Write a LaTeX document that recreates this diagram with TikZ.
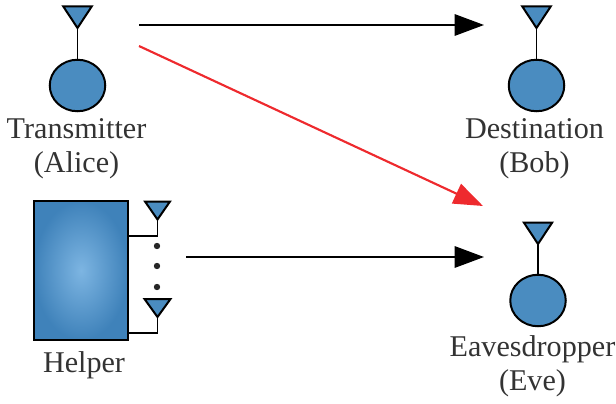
\documentclass[tikz,border=0pt]{standalone}
\usepackage{fontspec}
\setmainfont{Liberation Serif}
\usetikzlibrary{arrows.meta,shapes.geometric}
\definecolor{antblue}{HTML}{4A8CC0}
\definecolor{helpercore}{HTML}{7DB5E2}
\definecolor{helperedge}{HTML}{3F82BA}
\definecolor{txt}{HTML}{333333}
\definecolor{redarrow}{HTML}{EE2A2E}
\tikzset{
  terminal/.style={ellipse,draw=black,line width=1.5pt,fill=antblue,minimum width=55.5pt*0.75,minimum height=51.5pt*0.75,inner sep=0pt},
  antenna/.style={draw=black,line width=1.5pt,fill=antblue,line join=miter},
  stem/.style={draw=black,line width=.9pt},
  label/.style={text=txt,font=\fontsize{22.6pt}{25.2pt}\selectfont,align=center,inner sep=0pt},
  link/.style={line width=1.6pt,-{Triangle[length=22pt,width=16pt]},shorten >=0pt},
}
% name, x of tip, y of tip, half width, height
\newcommand{\antennaat}[5]{%
  \coordinate (#1) at (#2,#3);
  \draw[antenna] (#1) -- ++(-#4,-#5) -- ++(2*#4,0) -- cycle;
}
\begin{document}
\begin{tikzpicture}[x=.75pt,y=-.75pt]
\useasboundingbox (0,0) rectangle (616,403);
% Alice
\node[terminal] (alice) at (77.5,85.5) {};
\antennaat{aliceant}{77.5}{28}{14.2}{21.5}
\draw[stem] (aliceant) -- (alice.north);
\node[label] (alicetext) at (76.5,149) {Transmitter\\(Alice)};
% Bob
\node[terminal] (bob) at (536.5,85.5) {};
\antennaat{bobant}{536.5}{28}{14.2}{21.5}
\draw[stem] (bobant) -- (bob.north);
\node[label] (bobtext) at (534.5,149) {Destination\\(Bob)};
% Eve
\node[terminal] (eve) at (538,300.5) {};
\antennaat{eveant}{538}{244}{14.2}{21.5}
\draw[stem] (eveant) -- (eve.north);
\node[label] (evetext) at (532.5,366) {Eavesdropper\\(Eve)};
% Helper
\node[draw=black,line width=1.6pt,inner color=helpercore,outer color=helperedge,minimum width=70.5pt,minimum height=104pt,inner sep=0pt] (helper) at (81,270.5) {};
\antennaat{hantone}{157.5}{219.5}{12.5}{18}
\antennaat{hanttwo}{157.5}{317}{13}{18}
\draw[stem] (hantone) |- (helper.east |- 0,236);
\draw[stem] (hanttwo) |- (helper.east |- 0,333);
\foreach \n/\y in {a/246,b/266,c/287}
  \fill[black!85] (157,\y) circle[radius=2.4pt];
\node[label] (helpertext) at (84,365) {Helper};
% Links
\coordinate (txa) at (139,25);
\coordinate (bobin) at (484,25);
\coordinate (txb) at (139,46);
\coordinate (evein) at (483,206);
\coordinate (hlpout) at (186,257);
\coordinate (evein2) at (484,257);
\draw[link,black] (txa) -- (bobin);
\draw[link,redarrow] (txb) -- (evein);
\draw[link,black] (hlpout) -- (evein2);
\end{tikzpicture}
\end{document}
